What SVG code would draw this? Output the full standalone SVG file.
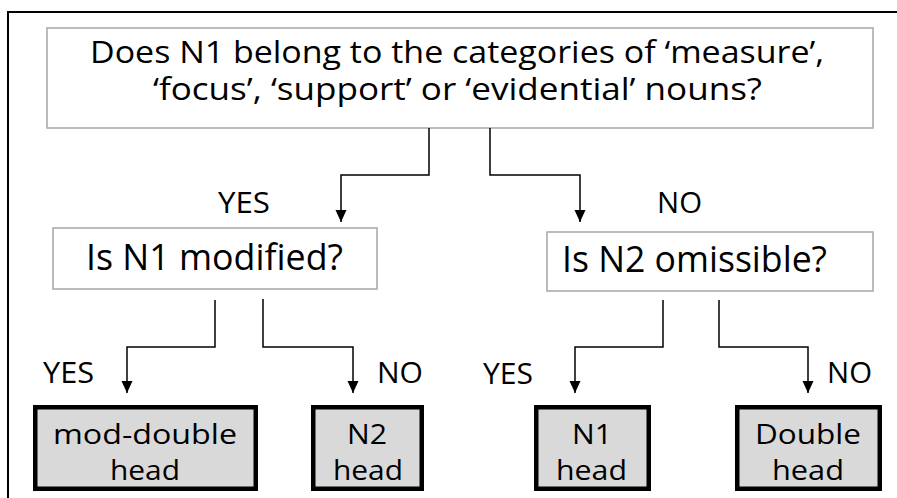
<svg xmlns="http://www.w3.org/2000/svg" width="897" height="498" viewBox="0 0 897 498">
<defs>
<style>
text{font-family:"Open Sans","Noto Sans","Liberation Sans",sans-serif;fill:#000;}
.t0{font-size:31px;}
.t1{font-size:29px;}
.t3{font-size:28px;}
.t2{font-size:36px;}
.q{fill:#fff;stroke:#a6a6a6;stroke-width:1.5;}
.leaf{fill:#d9d9d9;stroke:#000;stroke-width:4.5;}
.conn{fill:none;stroke:#000;stroke-width:1.5;}
</style>
<marker id="arr" markerUnits="userSpaceOnUse" markerWidth="12" markerHeight="12" viewBox="0 0 12 12" refX="12" refY="6" orient="auto">
<path d="M0,0.5 L12,6 L0,11.5 z" fill="#000"/>
</marker>
</defs>
<rect width="897" height="498" fill="#fff"/>
<path d="M8,498 V12 H897" fill="none" stroke="#000" stroke-width="2"/>

<g id="q1">
<rect class="q" x="47" y="28" width="826" height="100"/>
<text class="t0" x="90" y="62.5" textLength="734" lengthAdjust="spacingAndGlyphs">Does N1 belong to the categories of ‘measure’,</text>
<text class="t0" x="153" y="99.5" textLength="609" lengthAdjust="spacingAndGlyphs">‘focus’, ‘support’ or ‘evidential’ nouns?</text>
</g>
<g id="q2">
<rect class="q" x="53" y="228" width="324" height="61"/>
<text class="t2" x="86" y="270" textLength="257" lengthAdjust="spacingAndGlyphs">Is N1 modified?</text>
</g>
<g id="q3">
<rect class="q" x="547" y="232" width="326" height="59"/>
<text class="t2" x="562" y="272" textLength="265" lengthAdjust="spacingAndGlyphs">Is N2 omissible?</text>
</g>
<g id="leaf1">
<rect class="leaf" x="35.25" y="407.25" width="220.5" height="81.5"/>
<text class="t3" x="53" y="444" textLength="184" lengthAdjust="spacingAndGlyphs">mod-double</text>
<text class="t3" x="110" y="480" textLength="70" lengthAdjust="spacingAndGlyphs">head</text>
</g>
<g id="leaf2">
<rect class="leaf" x="313.25" y="407.25" width="108.5" height="81.5"/>
<text class="t3" x="347" y="444" textLength="40" lengthAdjust="spacingAndGlyphs">N2</text>
<text class="t3" x="333" y="480" textLength="70" lengthAdjust="spacingAndGlyphs">head</text>
</g>
<g id="leaf3">
<rect class="leaf" x="536.25" y="407.25" width="112.5" height="81.5"/>
<text class="t3" x="572" y="444" textLength="40" lengthAdjust="spacingAndGlyphs">N1</text>
<text class="t3" x="556" y="480" textLength="71" lengthAdjust="spacingAndGlyphs">head</text>
</g>
<g id="leaf4">
<rect class="leaf" x="737.25" y="407.25" width="142.5" height="81.5"/>
<text class="t3" x="755" y="444" textLength="106" lengthAdjust="spacingAndGlyphs">Double</text>
<text class="t3" x="772" y="480" textLength="72" lengthAdjust="spacingAndGlyphs">head</text>
</g>

<g id="connectors">
<path class="conn" marker-end="url(#arr)" d="M429,128 V175 H341 V222"/>
<path class="conn" marker-end="url(#arr)" d="M490,128 V175 H580 V222"/>
<path class="conn" marker-end="url(#arr)" d="M215,300 V347 H127 V393"/>
<path class="conn" marker-end="url(#arr)" d="M263,299 V347 H353 V393"/>
<path class="conn" marker-end="url(#arr)" d="M663,300 V347 H575 V393"/>
<path class="conn" marker-end="url(#arr)" d="M719,300 V347 H808 V393"/>
<text class="t1" x="218" y="213" textLength="52" lengthAdjust="spacingAndGlyphs">YES</text>
<text class="t1" x="657" y="213" textLength="45" lengthAdjust="spacingAndGlyphs">NO</text>
<text class="t1" x="43" y="383" textLength="51" lengthAdjust="spacingAndGlyphs">YES</text>
<text class="t1" x="377" y="383" textLength="46" lengthAdjust="spacingAndGlyphs">NO</text>
<text class="t1" x="483" y="384" textLength="50" lengthAdjust="spacingAndGlyphs">YES</text>
<text class="t1" x="827" y="383" textLength="45" lengthAdjust="spacingAndGlyphs">NO</text>
</g>
</svg>
